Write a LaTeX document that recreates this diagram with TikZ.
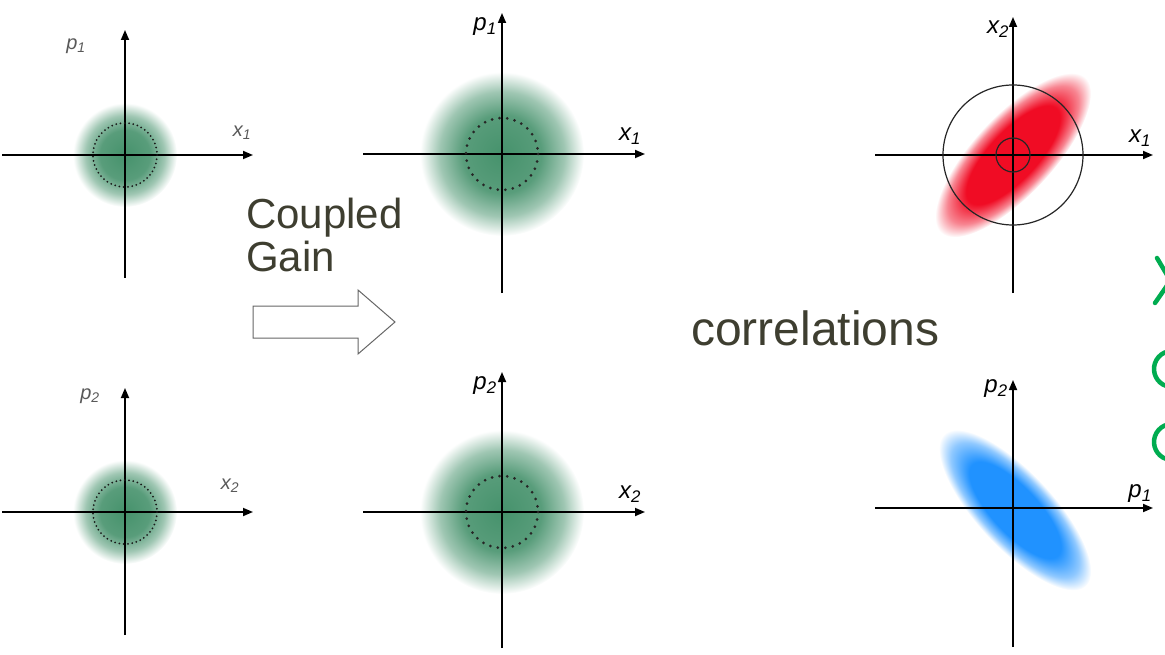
\documentclass[tikz,border=0pt]{standalone}
\usepackage{fontspec}
\setmainfont{Liberation Sans}
\usetikzlibrary{arrows.meta}

\definecolor{blobgreen}{RGB}{70,146,108}
\definecolor{sqred}{RGB}{240,12,36}
\definecolor{sqblue}{RGB}{32,146,255}
\definecolor{txtgray}{RGB}{62,62,48}
\definecolor{notegreen}{RGB}{0,172,80}

%% radial profiles, 25bp = edge of the shaded path
\pgfdeclareradialshading{greenblob}{\pgfpoint{0bp}{0bp}}{%
  color(0bp)=(blobgreen); color(12bp)=(blobgreen!90!white);
  color(19bp)=(blobgreen!52!white); color(25bp)=(white); color(50bp)=(white)}
\pgfdeclareradialshading{redsq}{\pgfpoint{0bp}{0bp}}{%
  color(0bp)=(sqred); color(15bp)=(sqred);
  color(21bp)=(sqred!50!white); color(25bp)=(white); color(50bp)=(white)}
\pgfdeclareradialshading{bluesq}{\pgfpoint{0bp}{0bp}}{%
  color(0bp)=(sqblue); color(15bp)=(sqblue);
  color(21bp)=(sqblue!50!white); color(25bp)=(white); color(50bp)=(white)}

\newcommand{\qlab}[2]{#1\textsubscript{#2}}

\begin{document}
\begin{tikzpicture}[x=1pt,y=-1pt,>={Triangle[length=10pt,width=8pt]},
  axis/.style={line width=1.7pt,->},
  thinlbl/.style={font=\fontsize{20}{20}\selectfont\itshape,text=black!65},
  lbl/.style={font=\fontsize{24}{24}\selectfont\itshape,text=black},
  big/.style={font=\fontsize{42}{42}\selectfont,text=txtgray,inner sep=0pt},
  fine dots/.style={dash pattern=on 0pt off 4.3pt,line cap=round,line width=2pt,black!90},
  coarse dots/.style={dash pattern=on 0pt off 7.6pt,line cap=round,line width=3pt,black!85},
  ring/.style={line width=1.2pt,black!85},
  hollow/.style={line width=1pt,draw=black!60},
  note/.style={notegreen,line width=4.5pt,line cap=round},
]
\useasboundingbox (0,0) rectangle (1165,655);

%% ================================================================
%%  input modes (left column)
%% ================================================================
\coordinate (oA) at (125,155);
\shade[shading=greenblob] (oA) circle (52);
\draw[axis] (oA) ++(-123,0) -- ++(251,0);
\draw[axis] (oA) ++(0,123) -- ++(0,-248);
\draw[fine dots] (oA) circle (32);
\node[thinlbl] (pA) at (76,46) {\qlab{p}{1}};
\node[thinlbl] (xA) at (242,133) {\qlab{x}{1}};

\coordinate (oB) at (125,512);
\shade[shading=greenblob] (oB) circle (52);
\draw[axis] (oB) ++(-123,0) -- ++(251,0);
\draw[axis] (oB) ++(0,123) -- ++(0,-247);
\draw[fine dots] (oB) circle (32);
\node[thinlbl] (pB) at (90,396) {\qlab{p}{2}};
\node[thinlbl] (xB) at (230,486) {\qlab{x}{2}};

%% ---- Coupled Gain ----
\node[big,anchor=base west] (cpl) at (246,229) {Coupled};
\node[big,anchor=base west] (gain) at (246,272) {Gain};
\draw[hollow] (253,306) -- (358,306) -- (358,290) -- (395,322)
  -- (358,354) -- (358,338) -- (253,338) -- cycle;

%% ================================================================
%%  amplified modes (middle column)
%% ================================================================
\coordinate (oC) at (502,154);
\shade[shading=greenblob] (oC) circle (82);
\draw[axis] (oC) ++(-139,0) -- ++(282,0);
\draw[axis] (oC) ++(0,139) -- ++(0,-280);
\draw[coarse dots] (oC) circle (36);
\node[lbl] (pC) at (485,27) {\qlab{p}{1}};
\node[lbl] (xC) at (630,136) {\qlab{x}{1}};

\coordinate (oD) at (502,512);
\shade[shading=greenblob] (oD) circle (82);
\draw[axis] (oD) ++(-139,0) -- ++(282,0);
\draw[axis] (oD) ++(0,136) -- ++(0,-276);
\draw[coarse dots] (oD) circle (36);
\node[lbl] (pD) at (485,386) {\qlab{p}{2}};
\node[lbl] (xD) at (630,494) {\qlab{x}{2}};

%% ---- correlations ----
\node[big,font=\fontsize{48}{48}\selectfont,anchor=base west] (corr) at (691,345) {correlations};

%% ================================================================
%%  squeezed joint quadratures (right column)
%% ================================================================
\coordinate (oE) at (1013,155);
\begin{scope}[transform canvas={shift={(1013,155)},rotate=47}]
  \shade[shading=redsq] (0,0) ellipse [x radius=106,y radius=40];
\end{scope}
\draw[axis] (oE) ++(-138,0) -- ++(278,0);
\draw[axis] (oE) ++(0,138) -- ++(0,-276);
\draw[ring] (oE) circle (70);
\draw[ring] (oE) circle (17);
\node[lbl] (xE) at (998,29) {\qlab{x}{2}};
\node[lbl] (xF) at (1140,138) {\qlab{x}{1}};

\coordinate (oF) at (1013,508);
\begin{scope}[transform canvas={shift={(1015,510)},rotate=-47}]
  \shade[shading=bluesq] (0,0) ellipse [x radius=104,y radius=38];
\end{scope}
\draw[axis] (oF) ++(-138,0) -- ++(278,0);
\draw[axis] (oF) ++(0,139) -- ++(0,-267);
\node[lbl] (pE) at (996,389) {\qlab{p}{2}};
\node[lbl] (pF) at (1140,494) {\qlab{p}{1}};

%% ---- cut-off green notes at the right edge ----
\begin{scope}
  \clip (0,0) rectangle (1165,655);
  \draw[note] (1157,258) -- (1173,285);
  \draw[note] (1155,303) -- (1173,277);
  \draw[note] (1172,369) ++(-60:18) arc[start angle=-60,end angle=-300,radius=18];
  \draw[note] (1172,442) ++(-60:18) arc[start angle=-60,end angle=-300,radius=18];
\end{scope}

\end{tikzpicture}
\end{document}
